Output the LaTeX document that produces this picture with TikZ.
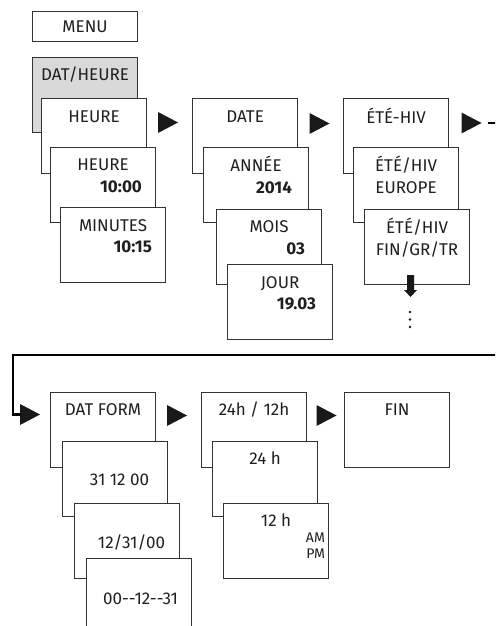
\documentclass[tikz,border=0pt]{standalone}
\usepackage{fontspec}
\setmainfont{Fira Sans}
\usetikzlibrary{calc}

\begin{document}
\begin{tikzpicture}[
    x=1pt, y=-1pt,
    every node/.style={font=\fontsize{17}{20}\selectfont, text=black!88},
    card/.style={draw=black!80, line width=1.1pt, fill=white, anchor=north west,
        minimum width=105pt, minimum height=75pt, inner sep=0pt},
    menu card/.style={card, fill=black!15},
    title/.style={anchor=base, inner sep=0pt},
    value/.style={anchor=base east, inner sep=0pt, font=\fontsize{17}{20}\selectfont\bfseries},
    small text/.style={anchor=base east, inner sep=0pt, font=\fontsize{14}{16}\selectfont},
    flow line/.style={line width=2.4pt, black},
    menuarrow/.pic={\fill[black!90] (-10,-10.5) -- (10,0) -- (-10,10.5) -- cycle;}
]
    % Frame
    \useasboundingbox (0,0) rectangle (495,626);
    \clip (0,0) rectangle (495,626);

    % Menu
    \node[card, minimum height=30pt] (menu) at (32,11) {};
    \node[title] (menu-t) at ([yshift=-21.5pt]menu.north) {MENU};

    % Row 1: time
    \node[menu card] (dath) at (32,57) {};
    \node[title] (dath-t) at ([yshift=-24pt]dath.north) {DAT/HEURE};
    \node[card] (heure) at (41,98) {};
    \node[title] (heure-t) at ([yshift=-24pt]heure.north) {HEURE};
    \node[card] (heure2) at (50,147) {};
    \node[title] (heure2-t) at ([yshift=-23.5pt]heure2.north) {HEURE};
    \node[value] (heure2-v) at ([xshift=-14pt, yshift=-45.5pt]heure2.north east) {10:00};
    \node[card] (minutes) at (60,207) {};
    \node[title] (minutes-t) at ([yshift=-24pt]minutes.north) {MINUTES};
    \node[value] (minutes-v) at ([xshift=-14pt, yshift=-45.5pt]minutes.north east) {10:15};

    % Row 1: date
    \node[card] (date) at (192,98) {};
    \node[title] (date-t) at ([yshift=-24pt]date.north) {DATE};
    \node[card] (annee) at (203,147) {};
    \node[title] (annee-t) at ([yshift=-24pt]annee.north) {ANNÉE};
    \node[value] (annee-v) at ([xshift=-17pt, yshift=-46.5pt]annee.north east) {2014};
    \node[card] (mois) at (216,209) {};
    \node[title] (mois-t) at ([yshift=-23.5pt]mois.north) {MOIS};
    \node[value] (mois-v) at ([xshift=-17pt, yshift=-45.5pt]mois.north east) {03};
    \node[card] (jour) at (227,264) {};
    \node[title] (jour-t) at ([yshift=-24pt]jour.north) {JOUR};
    \node[value] (jour-v) at ([xshift=-17pt, yshift=-45.5pt]jour.north east) {19.03};

    % Row 1: summer / winter time
    \node[card] (etehiv) at (343,98) {};
    \node[title] (etehiv-t) at ([yshift=-25pt]etehiv.north) {ÉTÉ-HIV};
    \node[card] (europe) at (353,147) {};
    \node[title] (europe-t) at ([yshift=-24pt]europe.north) {ÉTÉ/HIV};
    \node[title] (europe-v) at ([yshift=-46pt]europe.north) {EUROPE};
    \node[card] (fingr) at (364,209) {};
    \node[title] (fingr-t) at ([yshift=-24pt]fingr.north) {ÉTÉ/HIV};
    \node[title] (fingr-v) at ([yshift=-46pt]fingr.north) {FIN/GR/TR};

    % More entries below
    \fill[black!90] (407,275) -- (414,275) -- (414,290) -- (417,290) -- (410.5,297)
        -- (404,290) -- (407,290) -- cycle;
    \foreach \dy in {312,319.5,327}
        \fill[black!90] (410,\dy) circle (1.4pt);

    % Row 2: date format
    \node[card] (datform) at (50,392) {};
    \node[title] (datform-t) at ([yshift=-23.5pt]datform.north) {DAT FORM};
    \node[card] (fmt1) at (62,441) {};
    \node[title] (fmt1-t) at ([xshift=4.5pt, yshift=-44.5pt]fmt1.north) {31 12 00};
    \node[card] (fmt2) at (74,503) {};
    \node[title] (fmt2-t) at ([xshift=4.5pt, yshift=-45.5pt]fmt2.north) {12/31/00};
    \node[card] (fmt3) at (86,558) {};
    \node[title] (fmt3-t) at ([xshift=1.5pt, yshift=-46.5pt]fmt3.north) {00-{}-12-{}-31};

    % Row 2: clock format
    \node[card] (hfmt) at (201,392) {};
    \node[title] (hfmt-t) at ([yshift=-23.5pt]hfmt.north) {24h / 12h};
    \node[card] (h24) at (212,441) {};
    \node[title] (h24-t) at ([yshift=-23.5pt]h24.north) {24 h};
    \node[card] (h12) at (223,503) {};
    \node[title] (h12-t) at ([yshift=-23.5pt]h12.north) {12 h};
    \node[small text] (h12-am) at ([xshift=-4pt, yshift=-39.5pt]h12.north east) {AM};
    \node[small text] (h12-pm) at ([xshift=-4pt, yshift=-55.5pt]h12.north east) {PM};

    % Row 2: end
    \node[card] (fin) at (344,392) {};
    \node[title] (fin-t) at ([yshift=-23.5pt]fin.north) {FIN};

    % Step arrows
    \coordinate (t1) at (168,122.5);
    \coordinate (t2) at (319.5,123.5);
    \coordinate (t3) at (471.5,123);
    \coordinate (t4) at (30,414.5);
    \coordinate (t5) at (177,415.5);
    \coordinate (t6) at (326.5,415.5);
    \foreach \t in {t1,t2,t3,t4,t5,t6}
        \pic at (\t) {menuarrow};

    % Return to second row
    \draw[flow line] ([xshift=16.5pt]t3) -- ++(40,0) |- (13,355) |- ([xshift=-9pt]t4);

\end{tikzpicture}
\end{document}
